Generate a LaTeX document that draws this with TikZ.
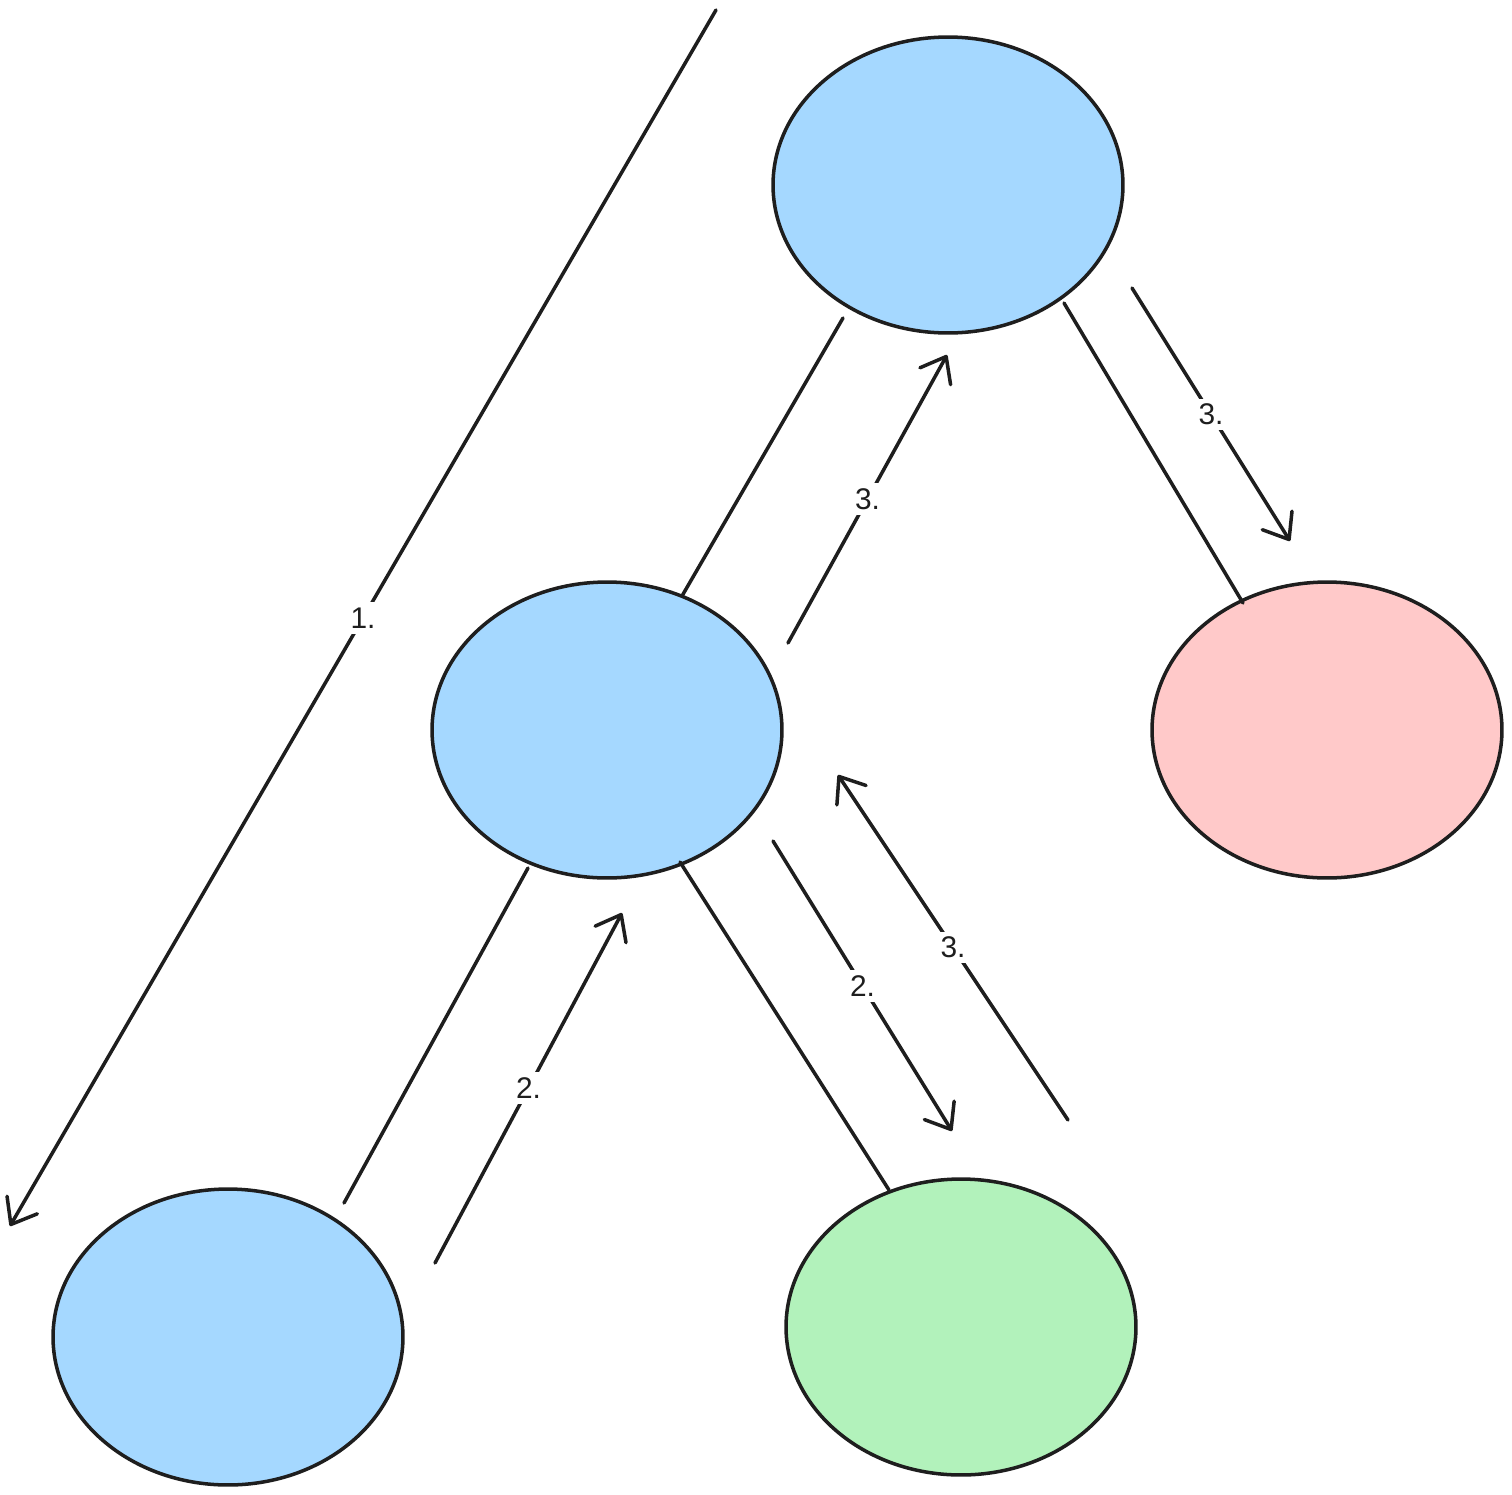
\documentclass[tikz,border=0pt]{standalone}
\usepackage{fontspec}
\setmainfont{Liberation Sans}
\usepackage{tikz}
\usetikzlibrary{shapes.geometric,arrows.meta}
\definecolor{Ink}{HTML}{1E1E1E}
\definecolor{BlueFill}{HTML}{A5D8FF}
\definecolor{PinkFill}{HTML}{FFC9C9}
\definecolor{GreenFill}{HTML}{B2F2BB}
\tikzstyle{none}=[inner sep=0pt]
\tikzstyle{simple}=[-,draw=Ink,line width=2pt,line cap=round]
\tikzstyle{arrow}=[simple,-{Straight Barb[length=4.5mm,width=7mm,line width=2pt,round]}]
\tikzstyle{blob}=[ellipse,draw=Ink,line width=2pt,inner sep=0pt,minimum width=7cm,minimum height=5.92cm]
\tikzstyle{step label}=[fill=white,inner sep=3pt,text=Ink,font=\fontsize{17}{19}\selectfont]

\begin{document}
\begin{tikzpicture}[x=0.02cm,y=-0.02cm]
  \useasboundingbox (0,0) rectangle (1512,1495);
  \node [style=blob,fill=BlueFill] (top) at (948,185) {};
  \node [style=blob,fill=BlueFill] (mid) at (607,730) {};
  \node [style=blob,fill=PinkFill] (right) at (1327,730) {};
  \node [style=blob,fill=BlueFill] (left) at (228,1337) {};
  \node [style=blob,fill=GreenFill] (low) at (961,1327) {};
  \node [style=none] (a0) at (843,318) {};
  \node [style=none] (a1) at (682,596) {};
  \node [style=none] (b0) at (1064,303) {};
  \node [style=none] (b1) at (1243,603) {};
  \node [style=none] (c0) at (528,868) {};
  \node [style=none] (c1) at (344,1203) {};
  \node [style=none] (d0) at (680,862) {};
  \node [style=none] (d1) at (889,1190) {};
  \node [style=none] (s1a) at (716,10) {};
  \node [style=none] (s1b) at (10,1226) {};
  \node [style=none] (s2a) at (435,1263) {};
  \node [style=none] (s2b) at (622,913) {};
  \node [style=none] (s2c) at (773,841) {};
  \node [style=none] (s2d) at (952,1131) {};
  \node [style=none] (s3a) at (1068,1120) {};
  \node [style=none] (s3b) at (838,775) {};
  \node [style=none] (s3c) at (788,643) {};
  \node [style=none] (s3d) at (947,355) {};
  \node [style=none] (s3e) at (1132,288) {};
  \node [style=none] (s3f) at (1290,541) {};
  \draw [style=simple] (a0.center) to (a1.center);
  \draw [style=simple] (b0.center) to (b1.center);
  \draw [style=simple] (c0.center) to (c1.center);
  \draw [style=simple] (d0.center) to (d1.center);
  \draw [style=arrow] (s1a.center) to node [style=step label] {1.} (s1b.center);
  \draw [style=arrow] (s2a.center) to node [style=step label] {2.} (s2b.center);
  \draw [style=arrow] (s2c.center) to node [style=step label] {2.} (s2d.center);
  \draw [style=arrow] (s3a.center) to node [style=step label] {3.} (s3b.center);
  \draw [style=arrow] (s3c.center) to node [style=step label] {3.} (s3d.center);
  \draw [style=arrow] (s3e.center) to node [style=step label] {3.} (s3f.center);
\end{tikzpicture}
\end{document}
